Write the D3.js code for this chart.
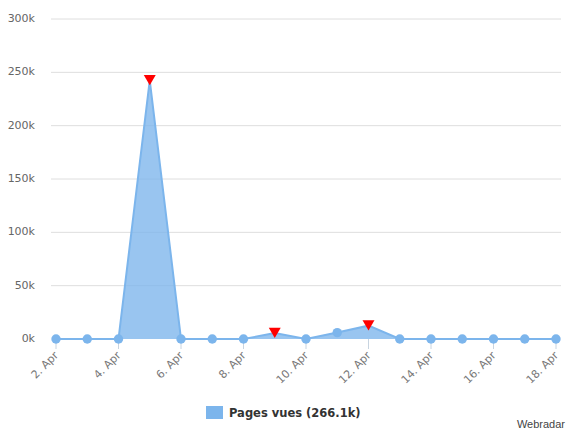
<!DOCTYPE html>
<html><head><meta charset="utf-8">
<script src="https://cdn.jsdelivr.net/npm/d3@7"></script>
<style>html,body{margin:0;padding:0;background:#fff}svg{display:block}text{font-family:"DejaVu Sans",sans-serif}</style>
</head><body><div id="c"></div>
<script>
const days = [2,3,4,5,6,7,8,9,10,11,12,13,14,15,16,17,18];
const pagesVues = [0,0,0,242500,0,0,0,5500,0,6000,12500,0,0,0,0,0,0];
const flagged = [5,9,12];
const yTicks = [0,50000,100000,150000,200000,250000,300000];
const xTicks = [2,4,6,8,10,12,14,16,18];
const legendLabel = "Pages vues (266.1k)";
const credit = "Webradar";
const W=570,H=431,blue="#7cb5ec";
const svg=d3.select("#c").append("svg").attr("width",W).attr("height",H);
const x=d3.scaleLinear().domain([2,18]).range([56,556]);
const y=d3.scaleLinear().domain([0,300000]).range([339,19]);
// grid
svg.append("g").selectAll("line").data(yTicks.slice(1)).join("line")
 .attr("x1",51).attr("x2",561).attr("y1",d=>y(d)).attr("y2",d=>y(d))
 .attr("stroke","#dedede").attr("stroke-width",1);
// y labels
svg.append("g").selectAll("text").data(yTicks).join("text")
 .attr("x",35).attr("y",d=>y(d)+3).attr("text-anchor","end")
 .attr("font-size",11).attr("fill","#666").text(d=>d/1000+"k");
// x ticks + labels
svg.append("g").selectAll("line").data(xTicks).join("line")
 .attr("x1",d=>x(d)).attr("x2",d=>x(d)).attr("y1",339).attr("y2",349)
 .attr("stroke","#c8d4e0");
svg.append("g").selectAll("text").data(xTicks).join("text")
 .attr("transform",d=>`translate(${x(d)+3},${356}) rotate(-45)`)
 .attr("text-anchor","end").attr("font-size",11).attr("fill","#777").text(d=>d+". Apr");
// area & line
const pts=days.map((d,i)=>({d,v:pagesVues[i]}));
svg.append("path").datum(pts)
 .attr("d",d3.area().x(p=>x(p.d)).y0(y(0)).y1(p=>y(p.v)))
 .attr("fill",blue).attr("fill-opacity",.78);
svg.append("path").datum(pts)
 .attr("d",d3.line().x(p=>x(p.d)).y(p=>y(p.v)))
 .attr("fill","none").attr("stroke",blue).attr("stroke-width",2);
// markers
svg.append("g").selectAll("circle").data(pts.filter(p=>!flagged.includes(p.d))).join("circle")
 .attr("cx",p=>x(p.d)).attr("cy",p=>y(p.v)).attr("r",4.7).attr("fill",blue);
const tri=d3.symbol().type(d3.symbolTriangle).size(62);
svg.append("g").selectAll("path").data(pts.filter(p=>flagged.includes(p.d))).join("path")
 .attr("d",tri).attr("fill","#f00")
 .attr("transform",p=>`translate(${x(p.d)},${y(p.v)-2}) rotate(180)`);
// legend
svg.append("rect").attr("x",206).attr("y",406).attr("width",17).attr("height",13).attr("fill",blue);
svg.append("text").attr("x",229).attr("y",417).attr("font-size",11.5).attr("font-weight",700).attr("fill","#333").text(legendLabel);
svg.append("text").attr("x",565).attr("y",428).attr("text-anchor","end").attr("font-size",11)
 .style("font-family","'Liberation Sans',sans-serif").attr("fill","#444").text(credit);
</script></body></html>
